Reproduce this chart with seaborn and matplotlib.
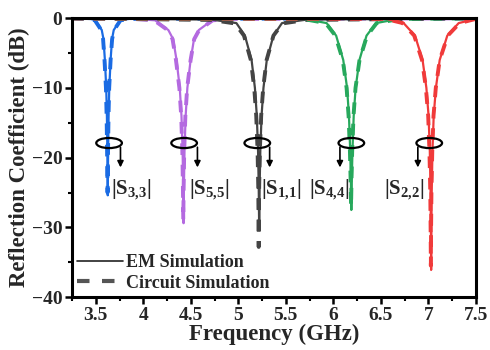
import numpy as np
import pandas as pd
import matplotlib
matplotlib.use("Agg")
import matplotlib.pyplot as plt
from matplotlib.patches import Ellipse
from matplotlib.lines import Line2D
import seaborn as sns

# ---- resonance responses (frequency in GHz, |S| in dB) ----
s33_em_f = [3.25, 3.45, 3.496, 3.563, 3.581, 3.596, 3.610, 3.617, 3.622, 3.6245, 3.626,
            3.6275, 3.630, 3.635, 3.642, 3.656, 3.671, 3.689, 3.756, 3.85, 7.5]
s33_em_db = [-0.02, -0.12, -0.3, -1.7, -3, -6, -10, -14, -19, -23, -25.4,
             -23, -19, -14, -10, -6, -3, -1.7, -0.3, -0.1, -0.01]
s33_ci_f = [3.25, 3.45, 3.490, 3.558, 3.577, 3.592, 3.607, 3.614, 3.619, 3.622, 3.624,
            3.626, 3.629, 3.634, 3.641, 3.656, 3.672, 3.692, 3.760, 3.86, 7.5]
s33_ci_db = [-0.02, -0.12, -0.3, -1.7, -3, -6, -10, -14, -19, -23, -25.0,
             -23, -19, -14, -10, -6, -3, -1.7, -0.3, -0.1, -0.01]

s55_em_f = [3.25, 3.90, 4.124, 4.264, 4.314, 4.350, 4.384, 4.402, 4.414, 4.420, 4.424,
            4.428, 4.434, 4.446, 4.464, 4.498, 4.534, 4.584, 4.724, 4.95, 7.5]
s55_em_db = [-0.01, -0.1, -0.3, -1.7, -3, -6, -10, -14, -19, -24, -29.4,
             -24, -19, -14, -10, -6, -3, -1.7, -0.3, -0.1, -0.01]
s55_ci_f = [3.25, 3.90, 4.114, 4.256, 4.308, 4.344, 4.380, 4.399, 4.411, 4.417, 4.421,
            4.425, 4.431, 4.443, 4.462, 4.498, 4.536, 4.588, 4.730, 4.95, 7.5]
s55_ci_db = [-0.01, -0.1, -0.3, -1.7, -3, -6, -10, -14, -19, -24, -29.0,
             -24, -19, -14, -10, -6, -3, -1.7, -0.3, -0.1, -0.01]

s11_em_f = [3.25, 4.72, 4.98, 5.07, 5.14, 5.175, 5.195, 5.208, 5.215, 5.22,
            5.225, 5.232, 5.245, 5.265, 5.30, 5.37, 5.46, 5.72, 7.5]
s11_em_db = [-0.02, -0.2, -0.7, -2.5, -6, -10, -14, -19, -24, -30.4,
             -24, -19, -14, -10, -6, -2.5, -0.7, -0.2, -0.02]
s11_ci_f = [3.25, 4.715, 4.965, 5.06, 5.132, 5.168, 5.189, 5.203, 5.210, 5.213, 5.215,
            5.217, 5.220, 5.227, 5.241, 5.262, 5.298, 5.37, 5.465, 5.715, 7.5]
s11_ci_db = [-0.02, -0.25, -0.75, -2.5, -6, -10, -14, -19, -24, -28.5, -32.8,
             -28.5, -24, -19, -14, -10, -6, -2.5, -0.75, -0.25, -0.02]

s44_em_f = [3.25, 5.69, 5.93, 6.03, 6.105, 6.145, 6.165, 6.178, 6.185, 6.19,
            6.195, 6.202, 6.215, 6.235, 6.275, 6.35, 6.45, 6.69, 7.5]
s44_em_db = [-0.02, -0.1, -0.7, -2.5, -6, -10, -14, -19, -23, -27.5,
             -23, -19, -14, -10, -6, -2.5, -0.7, -0.1, -0.02]
s44_ci_f = [3.25, 5.68, 5.92, 6.022, 6.10, 6.14, 6.161, 6.175, 6.182, 6.187,
            6.192, 6.199, 6.213, 6.234, 6.276, 6.355, 6.457, 6.70, 7.5]
s44_ci_db = [-0.02, -0.1, -0.7, -2.5, -6, -10, -14, -19, -23, -27.0,
             -23, -19, -14, -10, -6, -2.5, -0.7, -0.1, -0.02]

s22_em_f = [3.25, 6.56, 6.74, 6.86, 6.94, 6.98, 7.003, 7.016, 7.024, 7.028, 7.03,
            7.032, 7.036, 7.044, 7.057, 7.08, 7.12, 7.20, 7.32, 7.5]
s22_em_db = [-0.02, -0.1, -0.7, -2.5, -6, -10, -14, -19, -25, -31, -36.1,
             -31, -25, -19, -14, -10, -6, -2.5, -0.7, -0.1]
s22_ci_f = [3.25, 6.55, 6.73, 6.852, 6.934, 6.975, 6.999, 7.012, 7.021, 7.025, 7.027,
            7.029, 7.033, 7.042, 7.055, 7.079, 7.12, 7.205, 7.33, 7.5]
s22_ci_db = [-0.02, -0.1, -0.7, -2.5, -6, -10, -14, -19, -25, -31, -35.5,
             -31, -25, -19, -14, -10, -6, -2.5, -0.7, -0.1]

ports = ["S33", "S55", "S11", "S44", "S22"]
port_labels = [r"$|\mathrm{S}_{\mathbf{3{,}3}}|$", r"$|\mathrm{S}_{\mathbf{5{,}5}}|$",
               r"$|\mathrm{S}_{\mathbf{1{,}1}}|$", r"$|\mathrm{S}_{\mathbf{4{,}4}}|$",
               r"$|\mathrm{S}_{\mathbf{2{,}2}}|$"]
port_colors = ["#1a6be3", "#b46ae0", "#444444", "#27a85c", "#f03a3a"]

# marker ellipse centres, arrow x positions and label positions (GHz)
ring_f = [3.64, 4.43, 5.20, 6.19, 7.01]
arrow_f = [3.76, 4.57, 5.33, 6.07, 6.89]
label_f = [3.87, 4.69, 5.45, 5.96, 6.75]

curves = {
    "S33": ((s33_em_f, s33_em_db), (s33_ci_f, s33_ci_db)),
    "S55": ((s55_em_f, s55_em_db), (s55_ci_f, s55_ci_db)),
    "S11": ((s11_em_f, s11_em_db), (s11_ci_f, s11_ci_db)),
    "S44": ((s44_em_f, s44_em_db), (s44_ci_f, s44_ci_db)),
    "S22": ((s22_em_f, s22_em_db), (s22_ci_f, s22_ci_db)),
}

rows = []
for p in ports:
    (ef, edb), (cf, cdb) = curves[p]
    rows += [dict(freq=f, db=d, port=p, model="EM") for f, d in zip(ef, edb)]
    rows += [dict(freq=f, db=d, port=p, model="Circuit") for f, d in zip(cf, cdb)]
df = pd.DataFrame(rows)

sns.set_style("ticks")
serif = ["Liberation Serif", "DejaVu Serif"]
plt.rcParams["font.family"] = serif
plt.rcParams["font.weight"] = "bold"
plt.rcParams["mathtext.fontset"] = "custom"
plt.rcParams["mathtext.rm"] = "Liberation Serif"
plt.rcParams["mathtext.bf"] = "Liberation Serif:bold"

fig = plt.figure(figsize=(4.9, 3.5), dpi=100)
ax = fig.add_axes([0.147, 0.151, 0.824, 0.797])

palette = dict(zip(ports, port_colors))
for p in ports:
    sub = df[df.port == p]
    sns.lineplot(data=sub[sub.model == "Circuit"], x="freq", y="db", color=palette[p],
                 lw=2.8, ax=ax, sort=False, estimator=None, legend=False)
    ax.lines[-1].set_dashes((3, 2.5))
    sns.lineplot(data=sub[sub.model == "EM"], x="freq", y="db", color=palette[p],
                 lw=1.6, ax=ax, sort=False, estimator=None, legend=False)

for rf, af, lf, lab in zip(ring_f, arrow_f, label_f, port_labels):
    ax.add_patch(Ellipse((rf, -17.9), 0.27, 1.45, fill=False, ec="black", lw=1.6, zorder=5))
    ax.annotate("", xy=(af, -21.4), xytext=(af, -18.5),
                arrowprops=dict(arrowstyle="-|>", color="black", lw=1.2,
                                mutation_scale=9, shrinkA=0, shrinkB=0), zorder=5)
    ax.text(lf, -24.6, lab, ha="center", va="center", fontsize=15, zorder=6)

ax.set_xlim(3.25, 7.5)
ax.set_ylim(-40, 0)
ax.set_xticks(np.arange(3.5, 7.51, 0.5))
ax.set_xticklabels(["3.5", "4", "4.5", "5", "5.5", "6", "6.5", "7", "7.5"])
ax.set_xticks(np.arange(3.25, 7.51, 0.25), minor=True)
ax.set_yticks([-40, -30, -20, -10, 0])
ax.set_yticks(np.arange(-35, 0, 10), minor=True)
ax.tick_params(axis="both", which="major", direction="out", length=5, width=1.8,
               labelsize=14, pad=2, color="black")
ax.tick_params(axis="both", which="minor", direction="out", length=3, width=1.5, color="black")
for lab in ax.get_xticklabels() + ax.get_yticklabels():
    lab.set_fontweight("bold")
for s in ax.spines.values():
    s.set_visible(True)
    s.set_linewidth(2.2)
    s.set_color("black")

ax.set_xlabel("Frequency (GHz)", fontsize=16.5, fontweight="bold", labelpad=0)
ax.set_ylabel("Reflection Coefficient (dB)", fontsize=16.5, fontweight="bold", labelpad=1)

handles = [Line2D([], [], color="#222222", lw=1.2),
           Line2D([], [], color="#555555", lw=3.0, dashes=(3, 3))]
ax.legend(handles, ["EM Simulation", "Circuit Simulation"], loc="lower left",
          frameon=False, handlelength=2.5, handletextpad=0.2,
          labelspacing=0.2, borderaxespad=0.1, borderpad=0.2,
          prop=dict(family=serif, weight="bold", size=13))

fig.savefig("out.png", dpi=100)
